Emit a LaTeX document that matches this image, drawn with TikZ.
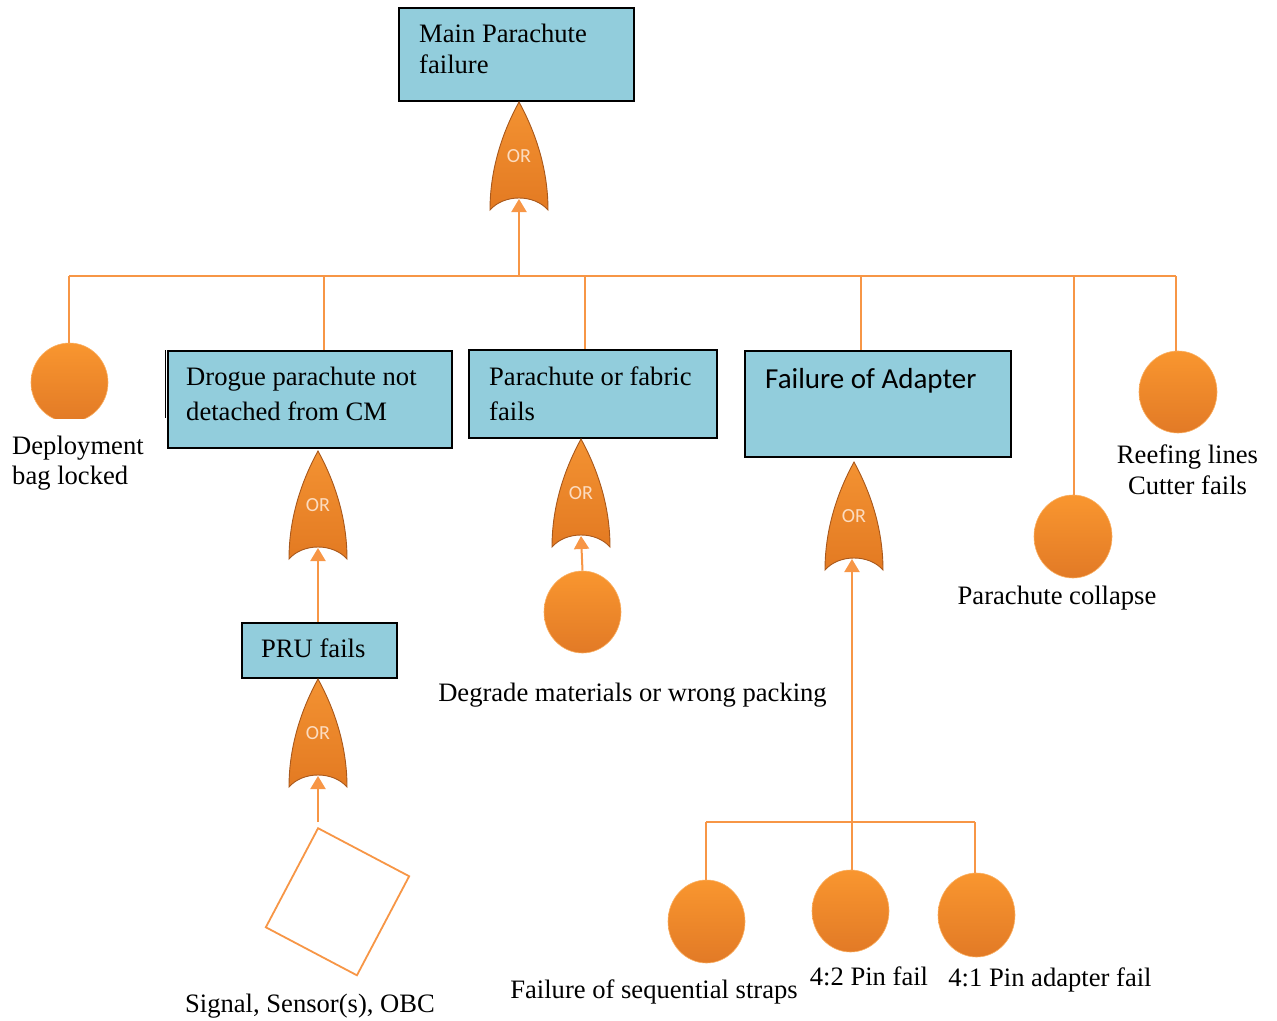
\documentclass[tikz,border=0pt]{standalone}
\usepackage{fontspec}
\setmainfont{Liberation Serif}
\newfontfamily\calfont{Carlito}
\usetikzlibrary{arrows.meta,shapes.geometric}
\definecolor{wireC}{HTML}{F79646}
\definecolor{boxC}{HTML}{92CDDC}
\definecolor{ballTop}{HTML}{F9962F}
\definecolor{ballBot}{HTML}{E27A26}
\definecolor{gateTop}{HTML}{F39232}
\definecolor{gateBot}{HTML}{E37A22}
\definecolor{gateEdge}{HTML}{A8581C}
\definecolor{gateTxt}{HTML}{FCDCC0}
\begin{document}
\begin{tikzpicture}[x=1pt,y=-1pt,
  wire/.style={draw=wireC, line width=2pt},
  up/.style={wire, -{Triangle[length=13pt,width=15pt]}},
  event/.style={draw=black, line width=1.6pt, fill=boxC, rectangle, inner sep=0pt, anchor=north west},
  ball/.style={ellipse, inner sep=0pt, top color=ballTop, bottom color=ballBot, draw=ballTop!75!white, line width=0.6pt},
  txt/.style={inner sep=0pt, font=\fontsize{26.6}{31}\selectfont},
  orgate/.pic={
    \path[top color=gateTop, bottom color=gateBot, draw=gateEdge, line width=0.9pt]
      (0,0) .. controls (12,22) and (29,60) .. (29,108)
      .. controls (15,92) and (-15,92) .. (-29,108)
      .. controls (-29,60) and (-12,22) .. (0,0) -- cycle;
    \node[text=gateTxt, font=\calfont\fontsize{20}{20}\selectfont, inner sep=0pt] (-lbl) at (0,54) {OR};
    \coordinate (-in) at (0,97);
  }
]
\useasboundingbox (0,0) rectangle (1277,1020);

% event boxes
\node[event, minimum width=235, minimum height=93] (top) at (398,7) {};
\node[event, minimum width=284, minimum height=97] (drog) at (167,350) {};
\draw[black, line width=1.6pt] ([xshift=-1.5pt]drog.north west) -- ++(0,68);
\node[event, minimum width=248, minimum height=88] (fab) at (468,349) {};
\node[event, minimum width=266, minimum height=106] (adp) at (744,350) {};
\node[event, minimum width=155, minimum height=55] (pru) at (241,622) {};

% box texts
\node[txt, anchor=base west] (topT1) at (419,42) {Main Parachute};
\node[txt, anchor=base west] (topT2) at (419,73) {failure};
\node[txt, anchor=base west] (drogT1) at (186,385) {Drogue parachute not};
\node[txt, anchor=base west] (drogT2) at (186,420) {detached from CM};
\node[txt, anchor=base west] (fabT1) at (489,385) {Parachute or fabric};
\node[txt, anchor=base west] (fabT2) at (489,420) {fails};
\node[txt, font=\calfont\fontsize{29}{33}\selectfont, anchor=base west] (adpT) at (765,388) {Failure of Adapter};
\node[txt, anchor=base west] (pruT) at (261,657) {PRU fails};

% OR gates
\pic (g1) at (519,102) {orgate};
\pic (g2) at (318,451) {orgate};
\pic (g3) at (581,439) {orgate};
\pic (g4) at (854,462) {orgate};
\pic (g5) at (318,679) {orgate};

% basic events
\begin{scope}
  \clip (20,330) rectangle (120,418);
  \node[ball, minimum width=77, minimum height=79] (dep) at (69.5,382.5) {};
\end{scope}
\node[ball, minimum width=78, minimum height=82] (reef) at (1178,392) {};
\node[ball, minimum width=78, minimum height=83] (coll) at (1073,536.5) {};
\node[ball, minimum width=77, minimum height=82] (degr) at (582.5,612) {};
\node[ball, minimum width=77, minimum height=83] (seq) at (706.5,921.5) {};
\node[ball, minimum width=77, minimum height=82] (p42) at (850.5,911) {};
\node[ball, minimum width=77, minimum height=84] (p41) at (976.5,915) {};

% undeveloped event
\node[draw=wireC, line width=1.8pt, fill=white, rectangle, minimum width=103, minimum height=112,
      inner sep=0pt, rotate=-27.8] (sig) at (337.5,901.75) {};

% labels
\node[txt, anchor=base west] (depT1) at (12,454) {Deployment};
\node[txt, anchor=base west] (depT2) at (12,484) {bag locked};
\node[txt, anchor=base] (reefT1) at (1187.5,463) {Reefing lines};
\node[txt, anchor=base] (reefT2) at (1187.5,494) {Cutter fails};
\node[txt, anchor=base] (collT) at (1057,604) {Parachute collapse};
\node[txt, anchor=base] (degrT) at (632.5,701) {Degrade materials or wrong packing};
\node[txt, anchor=base] (sigT) at (310,1012) {Signal, Sensor(s), OBC};
\node[txt, anchor=base] (seqT) at (654,998) {Failure of sequential straps};
\node[txt, anchor=base] (p42T) at (869,985) {4:2 Pin fail};
\node[txt, anchor=base] (p41T) at (1050,986) {4:1 Pin adapter fail};

% top-level bus
\coordinate (bA) at (69,276);
\coordinate (bB) at (324,276);
\coordinate (bM) at (519,276);
\coordinate (bC) at (585,276);
\coordinate (bD) at (861,276);
\coordinate (bE) at (1074,276);
\coordinate (bF) at (1176,276);
\draw[wire] (bA) -- (bF);
\draw[wire] (bA) -- (bA |- dep.north);
\draw[wire] (bB) -- (bB |- drog.north);
\draw[wire] (bC) -- (bC |- fab.north);
\draw[wire] (bD) -- (bD |- adp.north);
\draw[wire] (bE) -- (bE |- coll.north);
\draw[wire] (bF) -- (bF |- reef.north);
\draw[up] (bM) -- (g1-in);

% sub-trees
\draw[up] (pru.north -| g2-in) -- (g2-in);
\draw[up] (degr.north) -- (g3-in);
\coordinate (sigtop) at (318,822);
\draw[up] (sigtop) -- (g5-in);

% adapter bus
\coordinate (cA) at (706,822);
\coordinate (cB) at (852,822);
\coordinate (cC) at (975,822);
\draw[wire] (cA) -- (cC);
\draw[wire] (cA) -- (cA |- seq.north);
\draw[wire] (cB) -- (cB |- p42.north);
\draw[wire] (cC) -- (cC |- p41.north);
\draw[up] (cB) -- (cB |- g4-in);
\end{tikzpicture}
\end{document}
